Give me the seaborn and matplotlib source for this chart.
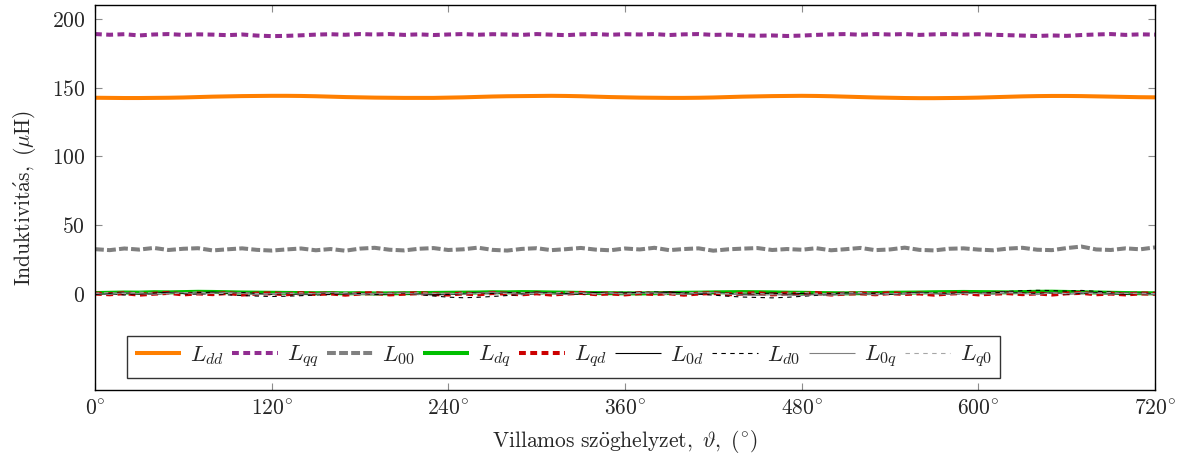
import numpy as np
import pandas as pd
import matplotlib
matplotlib.use("Agg")
import matplotlib.pyplot as plt
import seaborn as sns

# Electrical angle grid (degrees)
angle = np.arange(0, 721, 10)

L_dd = [142.6, 142.5, 142.4, 142.4, 142.5, 142.6, 142.8, 143.1, 143.4, 143.6, 143.8, 143.9, 144.0,
        144.0, 143.9, 143.7, 143.4, 143.1, 142.9, 142.7, 142.6, 142.5, 142.5, 142.5, 142.7,
        142.9, 143.2, 143.5, 143.7, 143.8, 143.9, 144.0, 143.9, 143.7, 143.4, 143.1, 142.9,
        142.7, 142.6, 142.5, 142.5, 142.6, 142.8, 143.1, 143.4, 143.6, 143.8, 143.9, 144.0,
        143.9, 143.7, 143.4, 143.1, 142.8, 142.6, 142.4, 142.3, 142.3, 142.4, 142.5, 142.7,
        143.0, 143.3, 143.6, 143.8, 143.9, 143.9, 143.8, 143.6, 143.4, 143.2, 143.0, 142.9]

L_qq = [188.9, 188.4, 188.8, 187.9, 188.6, 188.9, 188.3, 188.7, 188.5, 188.1, 188.6, 187.8, 187.4,
        187.6, 188.0, 188.5, 188.8, 188.4, 188.9, 188.6, 188.9, 188.3, 188.7, 188.2, 188.6,
        188.9, 188.4, 188.8, 188.6, 188.3, 188.9, 188.5, 188.1, 188.7, 188.9, 188.4, 188.8,
        188.6, 188.9, 188.2, 188.7, 188.9, 188.3, 188.5, 188.0, 187.7, 187.9, 187.5, 187.8,
        188.3, 188.7, 188.9, 188.4, 188.9, 188.6, 188.9, 188.3, 188.7, 188.9, 188.5, 188.8,
        188.4, 188.1, 187.8, 187.5, 187.9, 187.6, 188.2, 188.6, 188.9, 188.3, 188.7, 188.5]

L_00 = [32.5, 31.8, 33.0, 32.2, 33.4, 31.9, 32.8, 33.2, 31.6, 32.4, 33.1, 32.0, 31.5,
        32.3, 33.0, 31.7, 32.6, 31.4, 32.9, 33.5, 32.1, 31.6, 32.8, 33.3, 31.9,
        32.4, 33.6, 32.0, 31.5, 32.7, 33.2, 31.8, 32.5, 33.4, 32.2, 31.7, 33.0,
        32.3, 33.5, 31.8, 32.6, 33.1, 31.4, 32.4, 32.9, 33.3, 31.9, 32.6, 32.1,
        33.2, 31.7, 32.5, 33.4, 31.8, 32.3, 33.6, 32.0, 31.6, 32.8, 33.1, 32.2,
        31.7, 32.9, 33.5, 32.1, 31.8, 33.3, 34.4, 32.3, 31.9, 33.1, 32.4, 33.8]

L_dq = [0.6, 0.8, 1.0, 0.9, 1.2, 1.1, 1.3, 1.5, 1.4, 1.2, 1.0, 0.9, 0.8,
        0.7, 0.6, 0.5, 0.6, 0.4, 0.5, 0.3, 0.4, 0.5, 0.6, 0.7, 0.8,
        0.9, 1.0, 1.2, 1.1, 1.3, 1.2, 1.0, 0.9, 0.7, 0.6, 0.5, 0.4,
        0.3, 0.5, 0.6, 0.8, 0.9, 1.1, 1.2, 1.3, 1.2, 1.1, 0.9, 0.8,
        0.6, 0.5, 0.4, 0.5, 0.6, 0.8, 0.9, 1.0, 1.2, 1.3, 1.4, 1.3,
        1.2, 1.1, 1.3, 1.5, 1.6, 1.4, 1.2, 1.0, 0.8, 0.6, 0.5, 0.4]

L_qd = [0.2, -0.3, 0.5, -0.6, 0.1, 0.7, -0.4, 0.3, -0.2, 0.6, -0.5, 0.2, 0.4,
        -0.3, 0.5, -0.1, 0.3, -0.6, 0.2, 0.6, -0.4, 0.1, 0.5, -0.2, -0.5,
        0.3, -0.4, 0.6, 0.1, -0.3, 0.4, -0.5, 0.2, 0.7, -0.2, 0.3, -0.4,
        0.5, -0.1, 0.4, -0.6, 0.2, 0.6, -0.3, 0.1, 0.5, -0.4, 0.3, -0.2,
        0.6, -0.5, 0.2, 0.4, -0.3, 0.5, -0.1, 0.3, -0.6, 0.2, 0.6, -0.4,
        0.1, 0.5, -0.2, 0.3, -0.5, 0.4, 0.7, -0.3, 0.2, -0.4, 0.3, 0.1]

L_0d = [-0.4, 0.3, 0.8, -0.2, 0.5, 1.1, 0.4, 0.9, 1.3, 0.6, 1.0, 0.2, -0.3,
        0.4, -0.5, 0.2, 0.7, -0.1, 0.3, -0.6, 0.1, 0.5, -0.2, -0.8, -0.4,
        0.2, 0.8, 0.3, 1.0, 0.5, 1.2, 0.6, -0.1, 0.4, 0.9, 0.2, 0.7,
        1.1, 0.5, 1.4, 0.8, 0.2, 0.9, 0.3, -0.4, 0.1, 0.6, -0.2, 0.3,
        -0.5, 0.2, 0.7, 0.1, 0.5, -0.3, 0.4, 1.0, 0.5, 0.2, 0.8, 0.3,
        0.9, 1.3, 0.6, 0.2, 0.8, -0.1, 0.4, 1.0, 0.3, -0.2, 0.5, 0.1]

L_d0 = [-0.5, 0.2, -0.8, 0.4, -0.3, 0.6, 0.1, -0.4, 0.3, -0.7, -1.2, -1.6, -1.9,
        -1.7, -1.3, -0.8, -0.4, 0.2, 0.5, 0.1, 0.6, 0.3, -0.5, -1.5, -2.4,
        -2.8, -2.5, -1.9, -1.2, -0.5, 0.1, 0.4, 0.2, -0.3, 0.5, 0.9, 1.2,
        0.8, 1.4, 1.0, 0.4, -0.2, -0.9, -1.7, -2.3, -2.6, -2.9, -2.5, -1.8,
        -1.1, -0.4, 0.2, 0.5, 0.1, -0.3, 0.4, 0.8, 0.3, -0.2, 0.1, 0.6,
        1.2, 1.8, 2.3, 2.6, 2.4, 2.0, 2.5, 1.9, 1.3, 0.7, 0.2, -0.3]

L_0q = [0.3, -0.4, 0.8, 0.2, -0.3, 0.5, 0.9, -0.2, 0.4, 1.1, 0.3, -0.5, 0.2,
        0.7, -0.3, 0.4, 1.0, 0.1, -0.6, 0.5, 0.2, 0.8, -0.4, 0.3, 0.6,
        -0.2, 0.5, 1.2, 0.4, -0.3, 0.7, 0.2, -0.5, 0.9, 0.1, 0.6, -0.3,
        0.4, 0.8, 0.2, -0.4, 0.6, 1.0, -0.2, -0.8, -1.1, -0.6, -0.9, -1.2,
        -0.5, -1.0, -0.3, 0.2, -0.7, 0.4, -0.2, 0.6, 0.1, -0.4, 0.5, 0.2,
        -0.3, 0.7, 0.3, -0.5, 0.8, 0.2, 1.1, 0.4, -0.2, 0.6, 0.1, -0.4]

L_q0 = [0.5, 0.9, 0.2, 1.3, 0.6, -0.2, 0.8, 1.4, 0.4, 0.1, 0.9, 0.3, -0.3,
        0.2, 0.8, -0.1, 0.5, 1.1, 0.3, -0.4, 0.6, 0.2, 0.9, 0.4, -0.2,
        0.7, 0.3, -0.3, 0.5, 1.0, 0.2, 0.6, 1.3, 0.4, -0.1, 0.7, 0.3,
        0.9, 0.2, -0.4, 0.6, 1.2, 0.5, 0.1, 0.8, 0.3, -0.2, 0.5, 1.1,
        0.4, 0.0, 0.7, 1.0, 0.3, -0.3, 0.6, 0.2, 0.9, 0.5, -0.1, 0.4,
        0.8, 1.3, 0.5, 0.1, 0.7, 0.2, -0.2, 0.6, 1.0, 0.3, 0.5, 0.2]

x_ticks = [0, 120, 240, 360, 480, 600, 720]
y_ticks = [0, 50, 100, 150, 200]

sns.set_style("ticks")
plt.rcParams.update({
    "font.family": ["serif"],
    "font.serif": ["cmr10", "DejaVu Serif"],
    "mathtext.fontset": "cm",
    "axes.unicode_minus": False,
    "axes.formatter.use_mathtext": True,
})

# (label, values, colour, linewidth, dash pattern or None for solid)
series = [
    (r"$L_{dd}$", L_dd, "#ff7f00", 2.9, None),
    (r"$L_{qq}$", L_qq, "#912d91", 2.9, (1.7, 1.1)),
    (r"$L_{00}$", L_00, "#808080", 2.9, (2.2, 0.8)),
    (r"$L_{dq}$", L_dq, "#00bf00", 2.9, None),
    (r"$L_{qd}$", L_qd, "#cc0000", 2.9, (1.7, 1.1)),
    (r"$L_{0d}$", L_0d, "#000000", 0.8, None),
    (r"$L_{d0}$", L_d0, "#000000", 0.8, (4.0, 4.0)),
    (r"$L_{0q}$", L_0q, "#808080", 0.8, None),
    (r"$L_{q0}$", L_q0, "#a6a6a6", 0.8, (4.0, 4.0)),
]

FS = 15.5

fig = plt.figure(figsize=(11.84, 4.59), dpi=100)
ax = fig.add_axes([0.0802, 0.150, 0.8953, 0.839])

for label, values, color, lw, dash in series:
    df = pd.DataFrame({"angle": angle, "L": values})
    sns.lineplot(data=df, x="angle", y="L", ax=ax, color=color, linewidth=lw,
                 label=label, legend=False)
    line = ax.lines[-1]
    if dash is not None:
        line.set_dashes(dash)
    line.set_solid_capstyle("butt")

ax.set_xlim(0, 720)
ax.set_ylim(-70, 210)
ax.set_xticks(x_ticks)
ax.set_xticklabels([rf"${t}^{{\circ}}$" for t in x_ticks])
ax.set_yticks(y_ticks)
ax.set_yticklabels([rf"${t}$" for t in y_ticks])
ax.tick_params(direction="in", length=5, width=0.8, color="#8c8c8c",
               labelsize=FS, top=True, right=True, pad=7)
for sp in ax.spines.values():
    sp.set_color("black")
    sp.set_linewidth(1.0)

ax.set_xlabel(r"$\mathrm{Villamos\ sz\ddot{o}ghelyzet,}\ \vartheta\mathrm{,\ (^{\circ})}$",
              fontsize=FS, labelpad=6)
ax.set_ylabel(r"$\mathrm{Induktivit\acute{a}s,\ (\mu H)}$", fontsize=FS, labelpad=10)

handles, labels = ax.get_legend_handles_labels()
leg = ax.legend(handles, labels, loc="lower left", bbox_to_anchor=(0.03, 0.031),
                ncol=9, fontsize=16.5, frameon=True, fancybox=False,
                handlelength=2.0, handletextpad=0.4, columnspacing=0.35,
                borderpad=0.35, borderaxespad=0.0)
leg.get_frame().set_edgecolor("black")
leg.get_frame().set_linewidth(1.0)

fig.savefig("out.png", dpi=100)
